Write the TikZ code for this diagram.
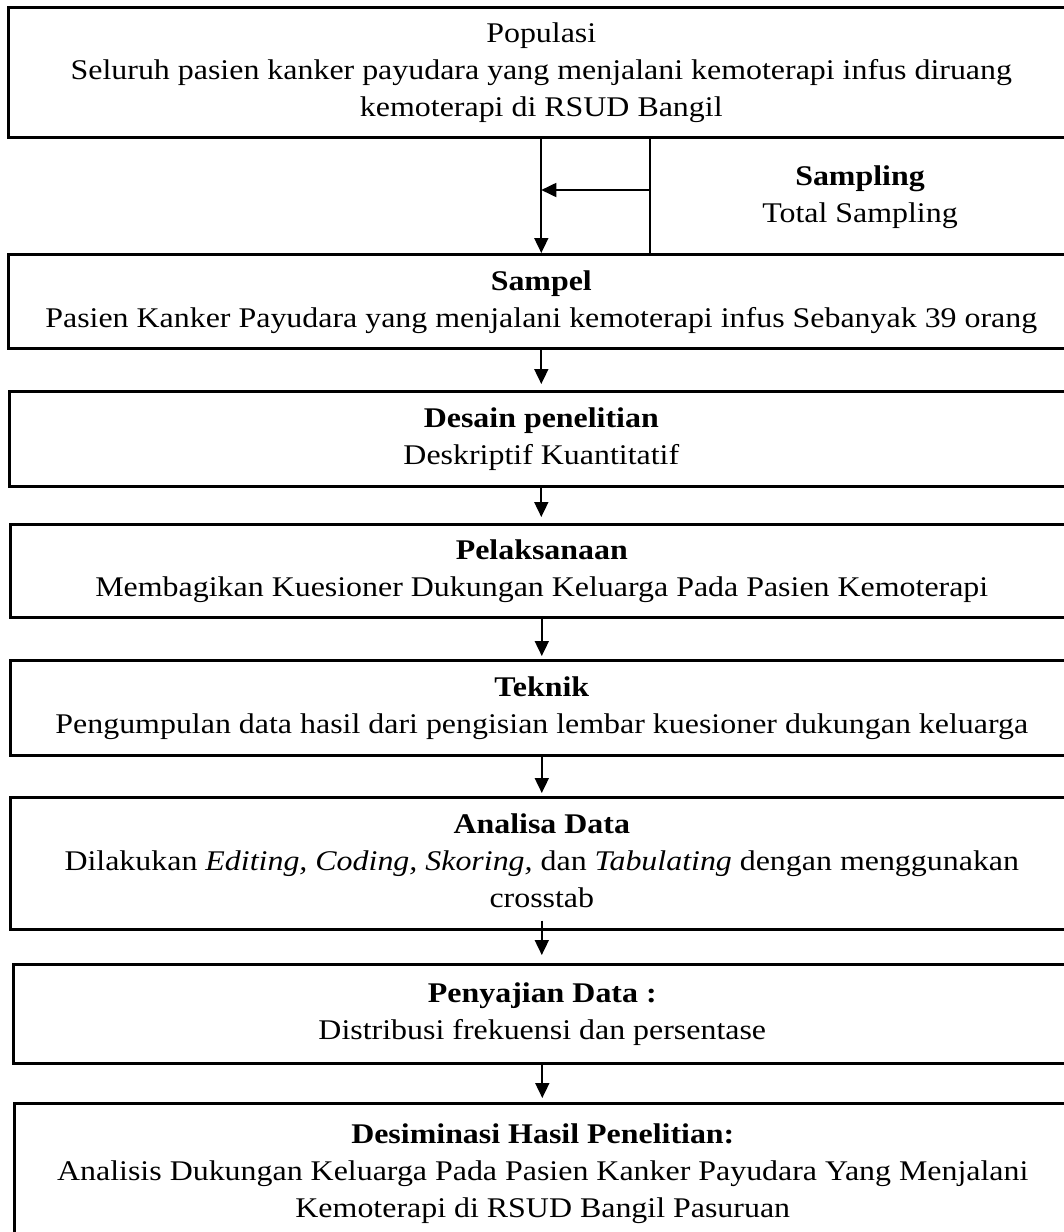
\documentclass[tikz,border=0pt]{standalone}
\usepackage{fontspec}
\setmainfont{Liberation Serif}[FakeStretch=1.12]
\usetikzlibrary{arrows.meta}
\newcommand\boxfont{\fontsize{28.5}{37}\selectfont}
\begin{document}
\begin{tikzpicture}[x=1pt,y=-1pt,
  flowbox/.style={draw, line width=2.6pt, rectangle, inner sep=0pt, align=center,
    font=\boxfont, anchor=north west},
  conn/.style={line width=1.8pt},
  arr/.style={line width=1.8pt, -{Triangle[length=15pt,width=14pt]}},
  lbl/.style={align=center, font=\boxfont, inner sep=0pt}]
\useasboundingbox (0,0) rectangle (1064,1232);
\clip (0,0) rectangle (1064,1232);

\node[flowbox, minimum width=1066pt, minimum height=130pt] (pop) at (7,6)
  {\strut Populasi\\ \strut Seluruh pasien kanker payudara yang menjalani kemoterapi infus diruang\\ \strut kemoterapi di RSUD Bangil};
\node[flowbox, minimum width=1066pt, minimum height=94pt] (samp) at (7,253)
  {\strut\textbf{Sampel}\\ \strut Pasien Kanker Payudara yang menjalani kemoterapi infus Sebanyak 39 orang};
\node[flowbox, minimum width=1064pt, minimum height=95pt] (des) at (8,390)
  {\strut\textbf{Desain penelitian}\\ \strut Deskriptif Kuantitatif};
\node[flowbox, minimum width=1063pt, minimum height=93pt] (pel) at (9,523)
  {\strut\textbf{Pelaksanaan}\\ \strut Membagikan Kuesioner Dukungan Keluarga Pada Pasien Kemoterapi};
\node[flowbox, minimum width=1063pt, minimum height=95pt] (tek) at (9,659)
  {\strut\textbf{Teknik}\\ \strut Pengumpulan data hasil dari pengisian lembar kuesioner dukungan keluarga};
\node[flowbox, minimum width=1063pt, minimum height=132pt] (ana) at (9,796)
  {\strut\textbf{Analisa Data}\\ \strut Dilakukan \textit{Editing, Coding, Skoring,} dan \textit{Tabulating} dengan menggunakan\\ \strut crosstab};
\node[flowbox, minimum width=1058pt, minimum height=99pt] (pen) at (12,963)
  {\strut\textbf{Penyajian Data :}\\ \strut Distribusi frekuensi dan persentase};
\node[flowbox, minimum width=1057pt, minimum height=140pt] (dis) at (13,1102)
  {\strut\textbf{Desiminasi Hasil Penelitian:}\\ \strut Analisis Dukungan Keluarga Pada Pasien Kanker Payudara Yang Menjalani\\ \strut Kemoterapi di RSUD Bangil Pasuruan};

\node[lbl] (samplab) at (860,197) {\strut\textbf{Sampling}\\ \strut Total Sampling};

\coordinate (sx) at (650,190);
\draw[arr] (pop.south) -- (pop.south |- samp.north);
\draw[conn] (sx |- pop.south) -- (sx |- samp.north);
\draw[arr] (sx) -- (sx -| pop.south);

\draw[arr, shorten >=6pt] (samp.south) -- (samp.south |- des.north);
\draw[arr, shorten >=6pt] (des.south) -- (des.south |- pel.north);
\draw[arr, shorten >=3pt] (pel.south) -- (pel.south |- tek.north);
\draw[arr, shorten >=3pt] (tek.south) -- (tek.south |- ana.north);
\draw[arr, shorten >=8pt] ([yshift=10pt]ana.south) -- (ana.south |- pen.north);
\draw[arr, shorten >=4pt] (pen.south) -- (pen.south |- dis.north);
\end{tikzpicture}
\end{document}
